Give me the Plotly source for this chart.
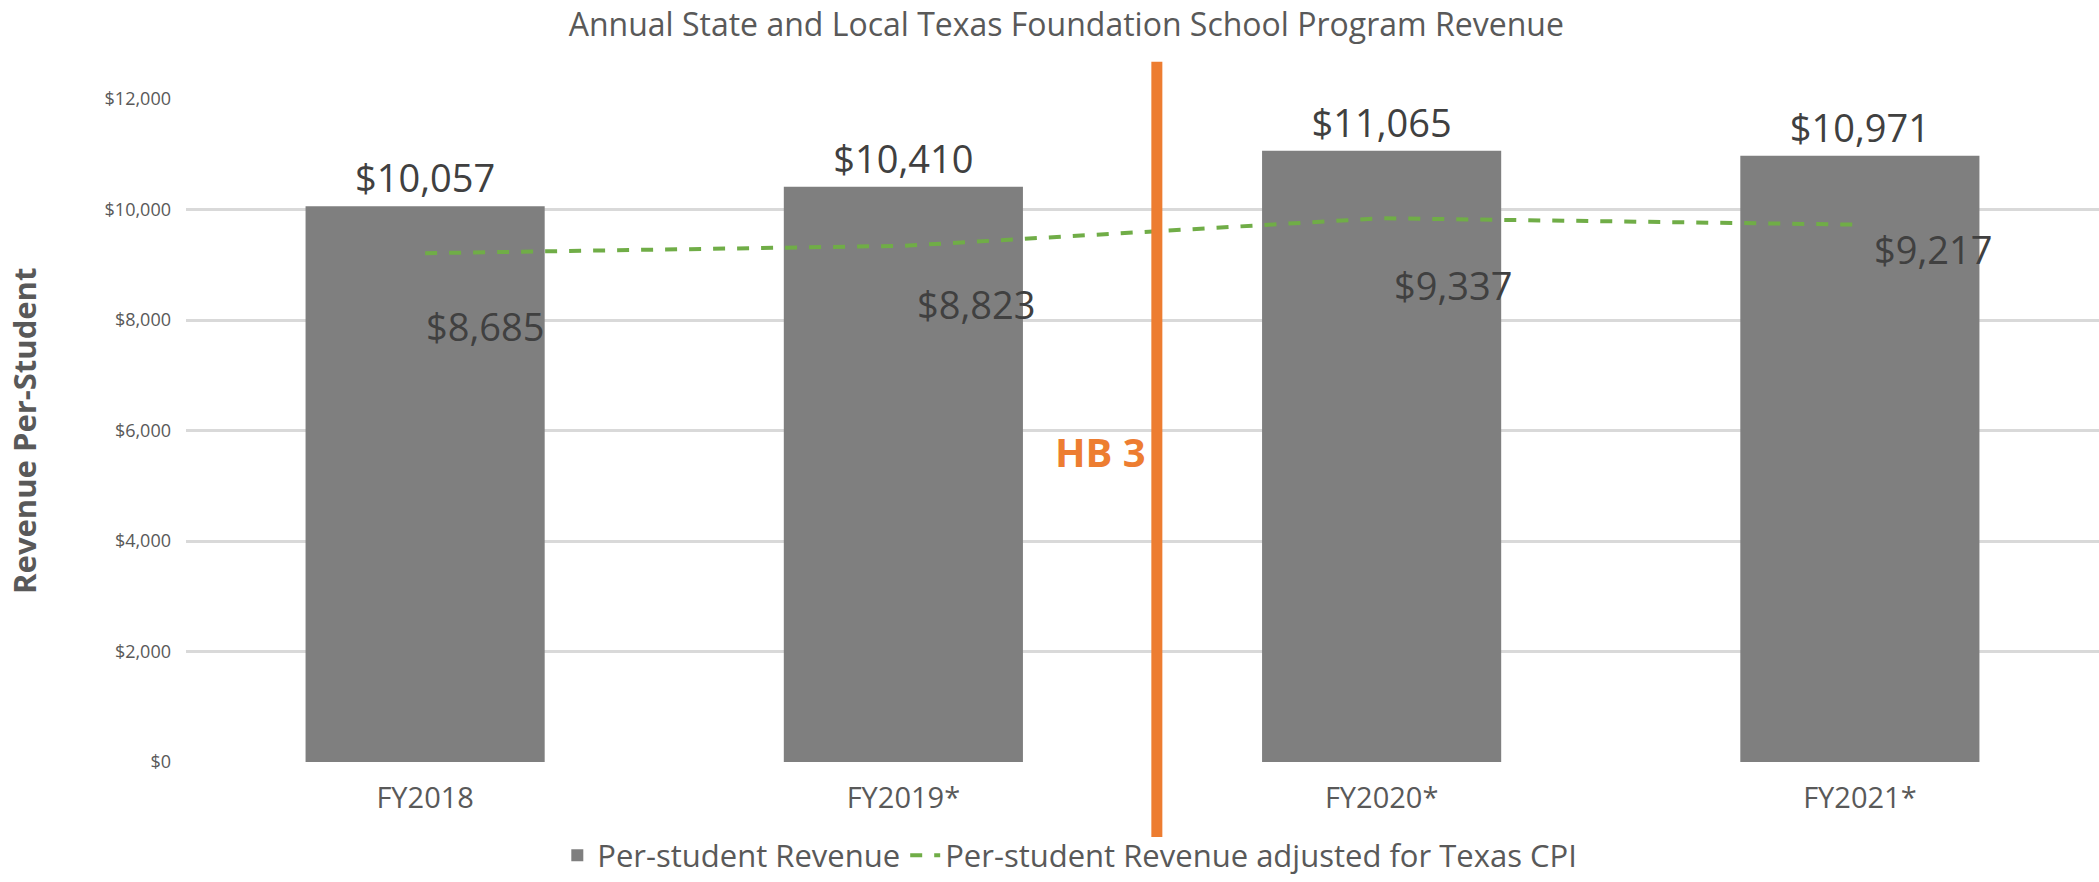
import plotly.graph_objects as go

years = ["FY2018", "FY2019*", "FY2020*", "FY2021*"]
revenue = [10057, 10410, 11065, 10971]
revenue_cpi = [8685, 8823, 9337, 9217]

GREY_TEXT = "#595959"
LABEL_TEXT = "#404040"
FONT = "Open Sans"

# where excel dropped the cpi labels relative to each point (px)
cpi_label_dx = [60, 73, 71, 73]
cpi_label_dy = [-73, -58, -67, -24]

fig = go.Figure()

fig.add_trace(go.Bar(
    x=years, y=revenue, name="Per-student Revenue",
    marker=dict(color="#7f7f7f", line=dict(width=0)),
    text=revenue, texttemplate="$%{y:,}", textposition="outside",
    textfont=dict(size=38, color=LABEL_TEXT, family=FONT),
    cliponaxis=False,
))

# the cpi line sits on a hidden secondary axis in the original
fig.add_trace(go.Scatter(
    x=years, y=revenue_cpi, name="Per-student Revenue adjusted for Texas CPI",
    mode="lines", yaxis="y2",
    line=dict(color="#70ad47", width=4, dash="dash"),
))

for i, (yr, v) in enumerate(zip(years, revenue_cpi)):
    fig.add_annotation(
        x=yr, y=v, xref="x", yref="y2", text=f"${v:,}", showarrow=False,
        xshift=cpi_label_dx[i], yshift=cpi_label_dy[i],
        font=dict(size=38, color=LABEL_TEXT, family=FONT),
    )

# HB 3 marker
fig.add_shape(
    type="line", xref="x", yref="paper", x0=1.53, x1=1.53, y0=-0.113, y1=1.056,
    line=dict(color="#ed7d31", width=11), layer="above",
)
fig.add_annotation(
    x=1.53, y=0.468, xref="x", yref="paper", text="<b>HB 3</b>", showarrow=False,
    xanchor="right", xshift=-9, font=dict(size=40, color="#ed7d31", family=FONT),
)

fig.add_annotation(
    x=-0.085, y=0.50, xref="paper", yref="paper", text="<b>Revenue Per-Student</b>",
    xanchor="center", yanchor="middle",
    textangle=-90, showarrow=False, font=dict(size=31, color=GREY_TEXT, family=FONT),
)

fig.update_layout(
    width=2099, height=882,
    margin=dict(l=186, r=0, t=99, b=120, autoexpand=False),
    paper_bgcolor="white", plot_bgcolor="white",
    font=dict(family=FONT, color=GREY_TEXT),
    title=dict(
        text="Annual State and Local Texas Foundation School Program Revenue",
        x=0.508, xanchor="center", y=0.972, yanchor="middle",
        font=dict(size=32, color=GREY_TEXT, family=FONT),
    ),
    bargap=0.5,
    showlegend=True,
    legend=dict(
        orientation="h", x=0.462, xanchor="center", y=-0.141, yanchor="middle",
        font=dict(size=31, color=GREY_TEXT, family=FONT),
        itemwidth=30, bgcolor="rgba(0,0,0,0)",
    ),
    xaxis=dict(
        showgrid=False, showline=False, zeroline=False,
        tickfont=dict(size=29, color=GREY_TEXT, family=FONT),
        ticklabelstandoff=16,
    ),
    yaxis=dict(
        range=[0, 12000], dtick=2000, tickprefix="$", tickformat=",",
        showgrid=True, gridcolor="#d9d9d9", gridwidth=3,
        zeroline=False, showline=False,
        tickfont=dict(size=18, color=GREY_TEXT, family=FONT),
        ticklabelstandoff=14,
    ),
    yaxis2=dict(
        overlaying="y", side="right", range=[-800, 11560],
        visible=False, showgrid=False,
    ),
)

fig.write_html(
    "out.html",
    config={"displayModeBar": False},
    post_script="document.body.style.margin='0';document.body.style.overflow='hidden';",
)
